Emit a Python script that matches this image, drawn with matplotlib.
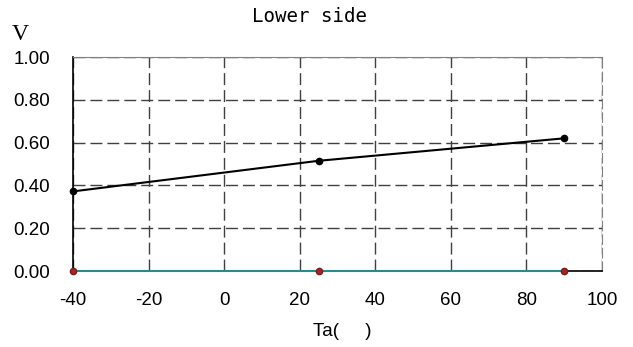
import matplotlib
matplotlib.use("Agg")
import matplotlib.pyplot as plt

temps = [-40, 25, 90]
upper_v = [0.372, 0.515, 0.62]
lower_v = [0.0, 0.0, 0.0]
xticks = [-40, -20, 0, 20, 40, 60, 80, 100]
xtick_labels = ["-40", "-20", "0", "20", "40", "60", "80", "100"]
yticks = [0.0, 0.2, 0.4, 0.6, 0.8, 1.0]
ytick_labels = ["0.00", "0.20", "0.40", "0.60", "0.80", "1.00"]

plt.rcParams['font.family'] = ['Liberation Sans', 'DejaVu Sans']

fig = plt.figure(figsize=(6.33, 3.47), dpi=100)
ax = fig.add_axes([73/633, 1-271/347, (602-73)/633, (271-57)/347])

ax.plot(temps, upper_v, color='black', lw=1.5, marker='o', ms=4.5, zorder=5, clip_on=False)
ax.plot(temps, lower_v, color='#2a8a8a', lw=1.5, marker='o', ms=4.5,
        markerfacecolor='#b02020', markeredgecolor='#702020', zorder=5, clip_on=False)

ax.set_xlim(-40, 100)
ax.set_ylim(0, 1.0)
ax.set_xticks(xticks)
ax.set_xticklabels(xtick_labels)
ax.set_yticks(yticks)
ax.set_yticklabels(ytick_labels)
ax.tick_params(length=0, labelsize=13.5)
ax.tick_params(axis='x', pad=15)
ax.tick_params(axis='y', pad=16.5)

ax.grid(True, color='#404040', ls=(0, (8.6, 3.6)), lw=1.0)
for s in ['top', 'right']:
    ax.spines[s].set_color('#808080')
ax.spines['right'].set_linestyle((0, (8.6, 3.6)))
for s in ['left', 'bottom']:
    ax.spines[s].set_color('black')
    ax.spines[s].set_linewidth(1.2)

fig.text(310/633, 1-17/347, "Lower side", ha='center', va='center',
         fontsize=13.8, family='DejaVu Sans Mono')
fig.text(20/633, 1-35/347, "V", ha='center', va='center', fontsize=17,
         family='Liberation Serif')
fig.text(313/633, 1-332/347, "Ta(     )", ha='left', va='center', fontsize=13.5)

fig.savefig("out.png", dpi=100)
